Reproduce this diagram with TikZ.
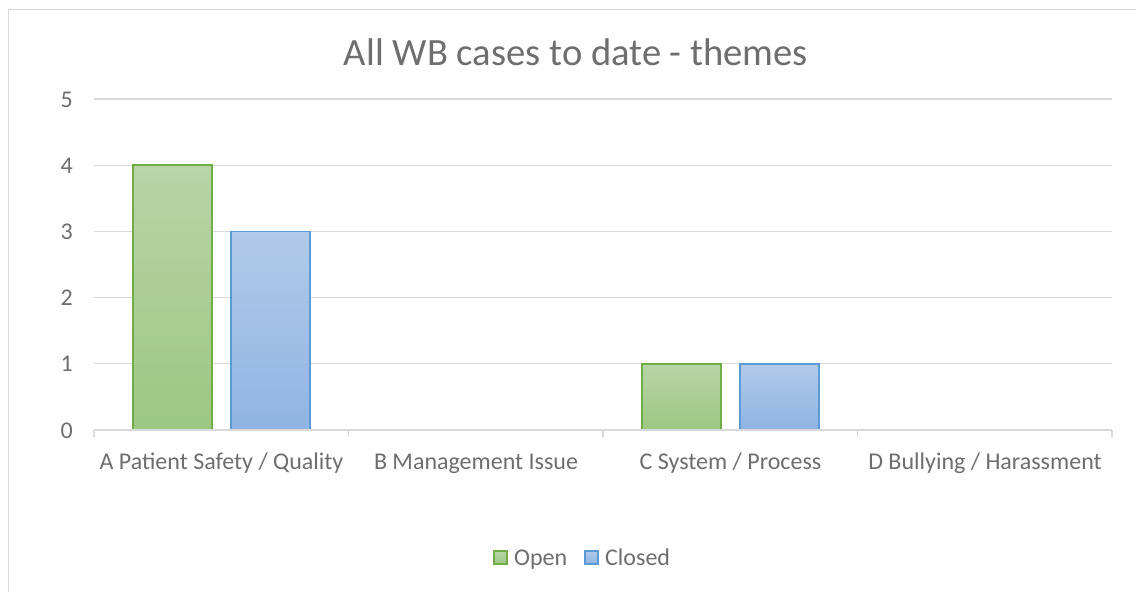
\documentclass[tikz,border=0pt]{standalone}
\usepackage{fontspec}
\setmainfont{Carlito}
\definecolor{txt}{RGB}{110,110,110}
\definecolor{grid}{RGB}{217,217,217}
\definecolor{frame}{RGB}{217,217,217}
\definecolor{gline}{RGB}{112,173,71}
\definecolor{gtop}{RGB}{183,213,168}
\definecolor{gbot}{RGB}{156,199,129}
\definecolor{bline}{RGB}{91,155,213}
\definecolor{btop}{RGB}{178,202,233}
\definecolor{bbot}{RGB}{143,180,227}
\tikzset{
  gridline/.style={draw=grid, line width=1.3pt},
  openbar/.style={draw=gline, line width=1.5pt, top color=gtop, bottom color=gbot},
  closedbar/.style={draw=bline, line width=1.5pt, top color=btop, bottom color=bbot},
  ylab/.style={anchor=base east, text=txt, font=\fontsize{24}{28}\selectfont, inner sep=0pt},
  xlab/.style={anchor=base, text=txt, font=\fontsize{24}{28}\selectfont, inner sep=0pt},
  legtext/.style={anchor=base west, text=txt, font=\fontsize{24}{28}\selectfont, inner sep=0pt},
}
\begin{document}
\begin{tikzpicture}[x=1pt,y=-1pt]
\useasboundingbox (0,0) rectangle (1136,592);
\fill[white] (0,0) rectangle (1136,592);
% chart frame (right and bottom edges lie outside the picture)
\draw[frame, line width=1.3pt] (8.5,600) -- (8.5,9.5) -- (1145,9.5);
% title
\node[anchor=base, text=txt, font=\fontsize{38.6}{44}\selectfont, inner sep=0pt] (title) at (576,65) {All WB cases to date - themes};
% gridlines and y labels
\foreach \v in {1,...,5}{
  \draw[gridline] (94,{430-66.2*\v}) -- (1112,{430-66.2*\v});
}
\foreach \v in {0,...,5}{
  \node[ylab] (y\v) at (73,{438-66.2*\v}) {\v};
}
% bars
\draw[openbar]   (133,{430-66.2*4}) rectangle (212,430);
\draw[closedbar] (231,{430-66.2*3}) rectangle (310,430);
\draw[openbar]   (642,{430-66.2*1}) rectangle (721,430);
\draw[closedbar] (740,{430-66.2*1}) rectangle (819,430);
% x axis
\draw[gridline] (94,430) -- (1112,430);
\foreach \x in {94,348.5,603,857.5,1112}{
  \draw[gridline] (\x,430) -- (\x,437);
}
\node[xlab] (ca) at (221.5,469) {A Patient Safety / Quality};
\node[xlab] (cb) at (476,469) {B Management Issue};
\node[xlab] (cc) at (730.5,469) {C System / Process};
\node[xlab] (cd) at (985,469) {D Bullying / Harassment};
% legend
\draw[openbar] (494,551) rectangle (507,564);
\node[legtext] (lo) at (514,565) {Open};
\draw[closedbar] (585,551) rectangle (598,564);
\node[legtext] (lc) at (605,565) {Closed};
\end{tikzpicture}
\end{document}
